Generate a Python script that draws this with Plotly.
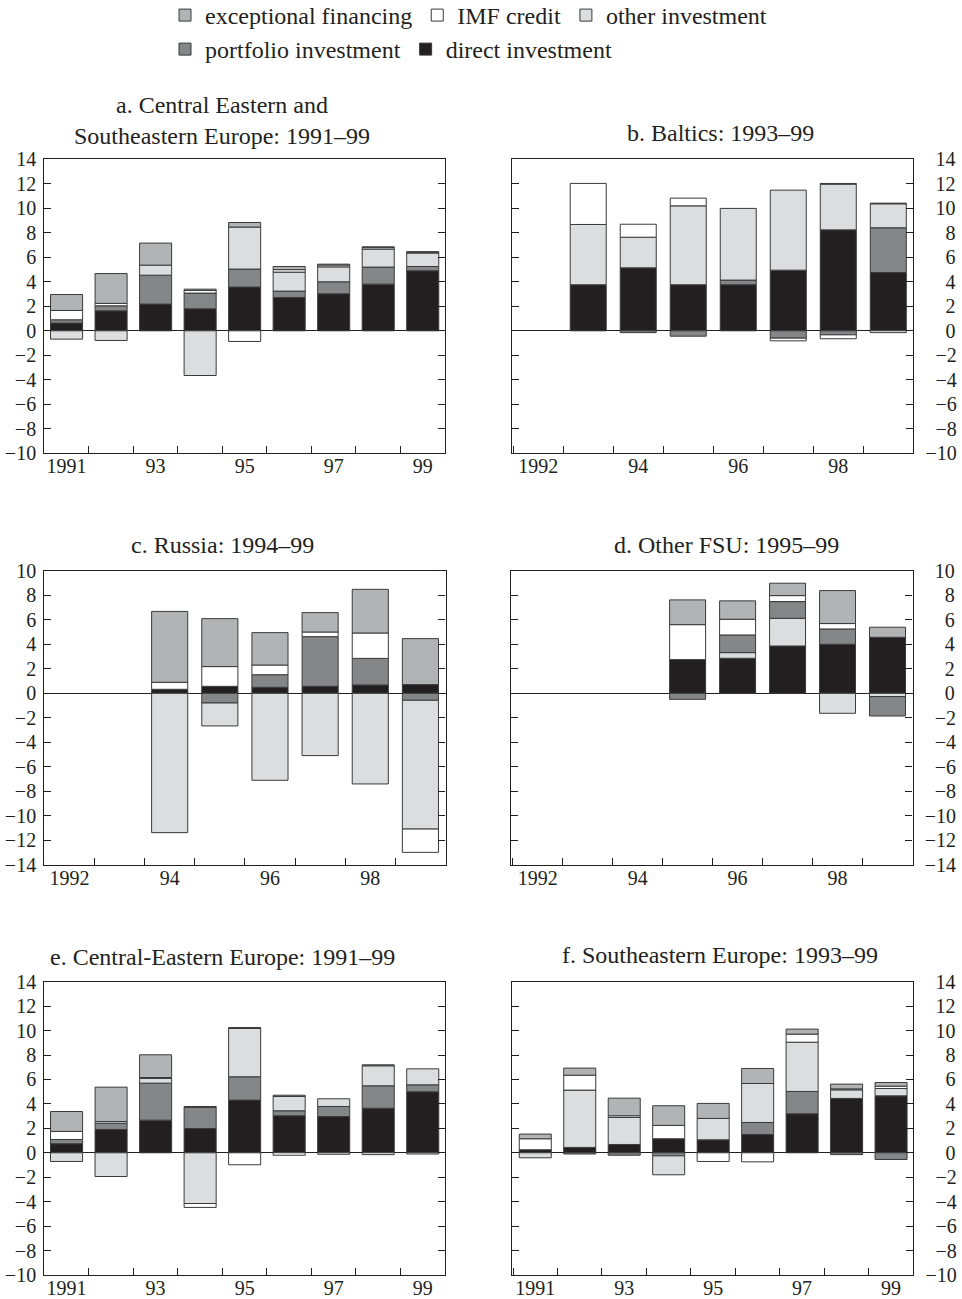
import plotly.graph_objects as go

FONT = "Liberation Serif"
INK = "#231f20"

# ---------------- data ----------------
NAMES = ["direct investment", "portfolio investment", "other investment",
         "IMF credit", "exceptional financing"]

# a. Central Eastern and Southeastern Europe
A_YEARS = [1991, 1992, 1993, 1994, 1995, 1996, 1997, 1998, 1999]
A_DIRECT = [0.63, 1.63, 2.18, 1.80, 3.57, 2.72, 3.02, 3.81, 4.90]
A_PORTFOLIO = [0.27, 0.41, 2.36, 1.28, 1.47, 0.52, 0.98, 1.39, 0.35]
A_OTHER = [-0.68, -0.79, 0.82, -3.65, 3.43, 1.55, 1.22, 1.47, 1.10]
A_IMF = [0.76, 0.20, None, 0.21, -0.87, 0.20, 0.15, 0.12, 0.06]
A_EXC = [1.30, 2.43, 1.80, 0.11, 0.37, 0.26, 0.07, 0.07, 0.05]

# b. Baltics
B_YEARS = [1993, 1994, 1995, 1996, 1997, 1998, 1999]
B_DIRECT = [3.76, 5.14, 3.76, 3.76, 4.95, 8.24, 4.76]
B_PORTFOLIO = [None, -0.15, -0.44, 0.38, -0.60, -0.33, 3.65]
B_OTHER = [4.92, 2.50, 6.44, 5.85, 6.53, 3.73, 1.96]
B_IMF = [3.35, 1.06, 0.63, None, -0.22, -0.32, -0.15]
B_EXC = [None, None, None, None, None, 0.06, 0.05]

# c. Russia
C_YEARS = [1994, 1995, 1996, 1997, 1998, 1999]
C_DIRECT = [0.33, 0.57, 0.49, 0.57, 0.68, 0.71]
C_PORTFOLIO = [None, -0.79, 1.03, 4.05, 2.17, -0.57]
C_OTHER = [-11.36, -1.87, -7.09, -5.08, -7.39, -10.50]
C_IMF = [0.57, 1.61, 0.79, 0.38, 2.07, -1.90]
C_EXC = [5.78, 3.91, 2.64, 1.58, 3.56, 3.75]

# d. Other FSU
D_YEARS = [1995, 1996, 1997, 1998, 1999]
D_DIRECT = [2.75, 2.86, 3.86, 4.00, 4.57]
D_PORTFOLIO = [-0.49, 1.44, 1.36, 1.25, -1.58]
D_OTHER = [None, 0.46, 2.26, -1.63, -0.27]
D_IMF = [2.85, 1.28, 0.49, 0.44, None]
D_EXC = [2.02, 1.50, 1.01, 2.69, 0.82]

# e. Central-Eastern Europe
E_YEARS = [1991, 1992, 1993, 1994, 1995, 1996, 1997, 1998, 1999]
E_DIRECT = [0.74, 1.91, 2.67, 1.99, 4.31, 3.03, 2.97, 3.65, 4.99]
E_PORTFOLIO = [0.35, 0.52, 3.03, 1.72, 1.91, 0.41, 0.82, 1.83, 0.57]
E_OTHER = [-0.71, -1.94, 0.38, -4.15, 3.95, 1.17, 0.63, 1.64, 1.31]
E_IMF = [0.66, 0.13, 0.08, -0.32, -0.98, -0.20, -0.12, -0.15, -0.10]
E_EXC = [1.63, 2.81, 1.86, 0.08, 0.08, 0.10, None, 0.08, None]

# f. Southeastern Europe
F_YEARS = [1991, 1992, 1993, 1994, 1995, 1996, 1997, 1998, 1999]
F_DIRECT = [0.25, 0.44, 0.68, 1.15, 1.06, 1.50, 3.19, 4.45, 4.66]
F_PORTFOLIO = [None, -0.10, -0.20, -0.25, None, 0.98, 1.83, -0.15, -0.55]
F_OTHER = [-0.41, 4.69, 2.21, -1.55, 1.75, 3.19, 4.03, 0.70, 0.60]
F_IMF = [0.90, 1.22, 0.14, 1.09, -0.71, -0.74, 0.66, 0.08, 0.19]
F_EXC = [0.38, 0.58, 1.44, 1.61, 1.23, 1.23, 0.41, 0.39, 0.30]

TITLES = ["a. Central Eastern and<br>Southeastern Europe: 1991–99",
          "b. Baltics: 1993–99", "c. Russia: 1994–99", "d. Other FSU: 1995–99",
          "e. Central-Eastern Europe: 1991–99", "f. Southeastern Europe: 1993–99"]

Y_TICKS_UP = [-10, -8, -6, -4, -2, 0, 2, 4, 6, 8, 10, 12, 14]
Y_LABELS_UP = ["−10", "−8", "−6", "−4", "−2", "0", "2", "4", "6", "8", "10", "12", "14"]
Y_TICKS_DOWN = [-14, -12, -10, -8, -6, -4, -2, 0, 2, 4, 6, 8, 10]
Y_LABELS_DOWN = ["−14", "−12", "−10", "−8", "−6", "−4", "−2", "0", "2", "4", "6", "8", "10"]

X_TICKS_ODD = [1991, 1993, 1995, 1997, 1999]
X_LABELS_ODD = ["1991", "93", "95", "97", "99"]
X_TICKS_EVEN = [1992, 1994, 1996, 1998]
X_LABELS_EVEN = ["1992", "94", "96", "98"]

# ---------------- styling ----------------
COLORS = {
    "direct investment": "#231f20",
    "portfolio investment": "#858688",
    "other investment": "#dcdddf",
    "IMF credit": "#ffffff",
    "exceptional financing": "#b2b3b5",
}

W, H = 962, 1299
# pixel boxes of the six plot areas: (left, right, top, bottom)
BOXES = [
    (44.3, 445.0, 159.3, 453.3),
    (511.7, 913.3, 159.3, 453.3),
    (44.3, 445.5, 570.7, 865.0),
    (511.2, 912.5, 570.7, 865.0),
    (44.3, 445.0, 981.7, 1275.0),
    (511.7, 913.3, 981.7, 1275.0),
]
TITLE_POS = [(222, 120), (720, 133), (222, 545), (726, 545), (222, 957), (720, 955)]

std_order = [0, 1, 2, 3, 4]
fsu_order = [0, 2, 1, 3, 4]

panels = [
    dict(x=A_YEARS, s=[A_DIRECT, A_PORTFOLIO, A_OTHER, A_IMF, A_EXC], order=std_order,
         xr=[1990.5, 1999.5], xt=(X_TICKS_ODD, X_LABELS_ODD), yt=(Y_TICKS_UP, Y_LABELS_UP),
         yr=[-10, 14], side="left"),
    dict(x=B_YEARS, s=[B_DIRECT, B_PORTFOLIO, B_OTHER, B_IMF, B_EXC], order=std_order,
         xr=[1991.47, 1999.5], xt=(X_TICKS_EVEN, X_LABELS_EVEN), yt=(Y_TICKS_UP, Y_LABELS_UP),
         yr=[-10, 14], side="right"),
    dict(x=C_YEARS, s=[C_DIRECT, C_PORTFOLIO, C_OTHER, C_IMF, C_EXC], order=std_order,
         xr=[1991.5, 1999.5], xt=(X_TICKS_EVEN, X_LABELS_EVEN), yt=(Y_TICKS_DOWN, Y_LABELS_DOWN),
         yr=[-14, 10], side="left"),
    dict(x=D_YEARS, s=[D_DIRECT, D_PORTFOLIO, D_OTHER, D_IMF, D_EXC], order=fsu_order,
         xr=[1991.47, 1999.5], xt=(X_TICKS_EVEN, X_LABELS_EVEN), yt=(Y_TICKS_DOWN, Y_LABELS_DOWN),
         yr=[-14, 10], side="right"),
    dict(x=E_YEARS, s=[E_DIRECT, E_PORTFOLIO, E_OTHER, E_IMF, E_EXC], order=std_order,
         xr=[1990.5, 1999.5], xt=(X_TICKS_ODD, X_LABELS_ODD), yt=(Y_TICKS_UP, Y_LABELS_UP),
         yr=[-10, 14], side="left"),
    dict(x=F_YEARS, s=[F_DIRECT, F_PORTFOLIO, F_OTHER, F_IMF, F_EXC], order=std_order,
         xr=[1990.47, 1999.5], xt=(X_TICKS_ODD, X_LABELS_ODD), yt=(Y_TICKS_UP, Y_LABELS_UP),
         yr=[-10, 14], side="right"),
]

fig = go.Figure()
layout = {}
annotations = []

for i, p in enumerate(panels):
    n = i + 1
    xa = "x" if n == 1 else f"x{n}"
    ya = "y" if n == 1 else f"y{n}"
    for k in p["order"]:
        name = NAMES[k]
        fig.add_trace(go.Bar(
            x=p["x"], y=p["s"][k], name=name, xaxis=xa, yaxis=ya,
            marker=dict(color=COLORS[name], line=dict(color="#3a3a3a", width=1)),
            showlegend=(i == 0),
            legend="legend2" if k in (0, 1) else "legend",
            hoverinfo="x+y+name",
        ))
    l, r, t, b = BOXES[i]
    xmin = p["xr"][0]
    half = [v + 0.5 for v in range(int(xmin + 0.5), 1999)]
    sfx = str(n) if n > 1 else ""
    layout[f"xaxis{sfx}"] = dict(
        domain=[l / W, r / W], anchor=ya, range=p["xr"], automargin=False,
        showline=True, linecolor=INK, linewidth=1.3, mirror=True,
        showgrid=False, zeroline=False,
        tickmode="array", tickvals=p["xt"][0], ticktext=p["xt"][1], ticks="",
        ticklabelstandoff=-5,
        tickfont=dict(family=FONT, size=20, color=INK),
        minor=dict(tickmode="array", tickvals=half, ticks="inside", ticklen=7,
                   tickwidth=1.2, tickcolor=INK, showgrid=False),
    )
    labels = p["yt"][1]
    if p["side"] == "right":
        labels = ["\u2007" * (3 - len(s)) + s for s in labels]
    layout[f"yaxis{sfx}"] = dict(
        domain=[1 - b / H, 1 - t / H], anchor=xa, range=p["yr"], side=p["side"],
        automargin=False,
        showline=True, linecolor=INK, linewidth=1.3, mirror="ticks",
        showgrid=False, zeroline=True, zerolinecolor=INK, zerolinewidth=1.3,
        tickmode="array", tickvals=p["yt"][0], ticktext=labels,
        ticks="inside", ticklen=7, tickwidth=1.2, tickcolor=INK,
        ticklabelstandoff=3 if p["side"] == "left" else 7,
        tickfont=dict(family=FONT, size=20, color=INK),
    )
    tx, ty = TITLE_POS[i]
    annotations.append(dict(
        text=TITLES[i], x=tx / W, y=1 - ty / H, xref="paper", yref="paper",
        xanchor="center", yanchor="middle", showarrow=False,
        font=dict(family=FONT, size=24, color=INK),
    ))

LEG_FONT = dict(family=FONT, size=24, color=INK)
fig.update_layout(
    width=W, height=H,
    margin=dict(l=0, r=0, t=0, b=0, autoexpand=False),
    paper_bgcolor="white", plot_bgcolor="white",
    barmode="relative", bargap=0.28,
    font=dict(family=FONT, color=INK),
    annotations=annotations,
    legend=dict(orientation="h", x=165 / W, xanchor="left", y=1 + 7 / H, yanchor="top",
                traceorder="reversed", font=LEG_FONT,
                bgcolor="rgba(0,0,0,0)", itemclick=False),
    legend2=dict(orientation="h", x=165 / W, xanchor="left", y=1 - 27 / H, yanchor="top",
                 traceorder="reversed", font=LEG_FONT,
                 bgcolor="rgba(0,0,0,0)", itemclick=False),
    **layout,
)

fig.write_html("out.html", config={"displayModeBar": False},
               post_script="document.body.style.margin='0px';")
